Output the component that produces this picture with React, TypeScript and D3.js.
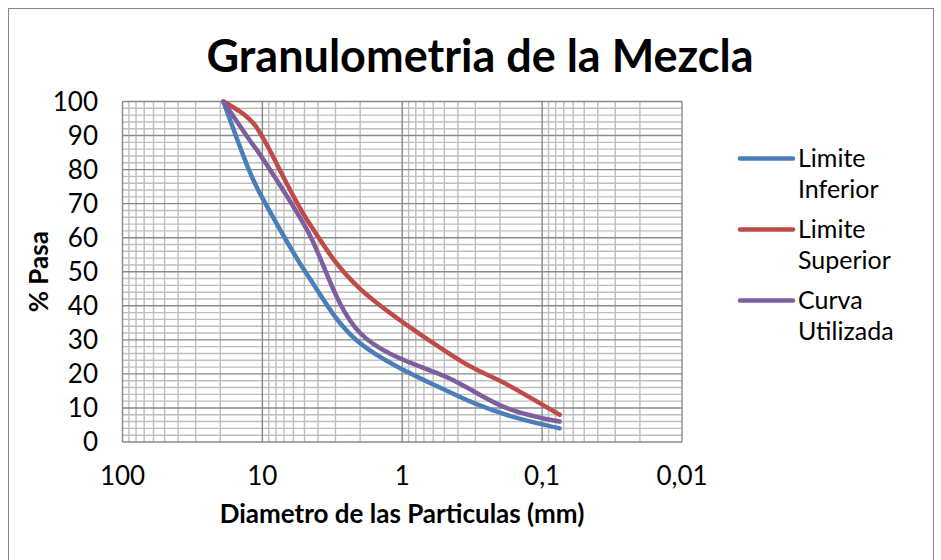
import React from "react";
import * as d3 from "d3";

const sieves = [19, 12.5, 9.5, 4.75, 2.0, 0.425, 0.18, 0.075];
const limiteInferior = [100, 80, 70, 49, 29, 14, 8, 4];
const limiteSuperior = [100, 95, 88, 65, 45, 25, 17, 8];
const curvaUtilizada = [100, 89, 82, 62, 32, 18, 10, 6];

const seriesNames = [["Limite", "Inferior"], ["Limite", "Superior"], ["Curva", "Utilizada"]];
const seriesColors = ["#4A7EBB", "#BE4B48", "#7D5FA0"];
const xTicks = [100, 10, 1, 0.1, 0.01];
const xTickLabels = ["100", "10", "1", "0,1", "0,01"];
const yTicks = [0, 10, 20, 30, 40, 50, 60, 70, 80, 90, 100];

const W = 941;
const H = 560;
const font = "Lato, 'Open Sans', sans-serif";

export default function App() {
  const x = d3.scaleLog().domain([100, 0.01]).range([122.5, 682]);
  const y = d3.scaleLinear().domain([0, 100]).range([442, 101.5]);

  const minorX: number[] = [];
  for (const dec of [10, 1, 0.1, 0.01]) {
    for (let k = 2; k <= 9; k++) minorX.push(dec * k);
  }
  const minorY: number[] = [];
  for (let v = 0; v <= 100; v += 2) if (v % 10 !== 0) minorY.push(v);

  const line = d3
    .line<[number, number]>()
    .x((d) => x(d[0]))
    .y((d) => y(d[1]))
    .curve(d3.curveCardinal.tension(0));

  const allSeries = [limiteInferior, limiteSuperior, curvaUtilizada];
  const [x0, x1] = x.range();
  const [y0, y1] = y.range();

  const legendY = [158.5, 229.5, 300.5];

  return (
    <svg
      width={W}
      height={H}
      style={{ position: "absolute", left: 0, top: 0, background: "#fff" }}
    >
      <rect x={8.5} y={8.5} width={925} height={600} fill="#fff" stroke="#868686" strokeWidth={1} />
      <text x={480} y={72} textAnchor="middle" fontFamily={font} fontWeight="bold" fontSize={45} fill="#000">
        Granulometria de la Mezcla
      </text>

      {minorY.map((v) => (
        <line key={"my" + v} x1={x0} x2={x1} y1={y(v)} y2={y(v)} stroke="#BFBFBF" strokeWidth={1.4} />
      ))}
      {minorX.map((v) => (
        <line key={"mx" + v} x1={x(v)} x2={x(v)} y1={y1} y2={y0} stroke="#BFBFBF" strokeWidth={1.4} />
      ))}
      {yTicks.map((v) => (
        <line key={"My" + v} x1={x0} x2={x1} y1={y(v)} y2={y(v)} stroke="#898989" strokeWidth={1.4} />
      ))}
      {xTicks.map((v) => (
        <line key={"Mx" + v} x1={x(v)} x2={x(v)} y1={y1} y2={y0} stroke="#898989" strokeWidth={1.4} />
      ))}

      {yTicks.map((v) => (
        <text key={"yl" + v} x={98} y={y(v) + 9} textAnchor="end" fontFamily={font} fontSize={26} fill="#000">
          {v}
        </text>
      ))}
      {xTicks.map((v, i) => (
        <text key={"xl" + v} x={x(v)} y={485} textAnchor="middle" fontFamily={font} fontSize={26} fill="#000">
          {xTickLabels[i]}
        </text>
      ))}

      <text x={402} y={523} textAnchor="middle" fontFamily={font} fontWeight="bold" fontSize={26} fill="#000">
        Diametro de las Particulas (mm)
      </text>
      <text
        transform={`translate(48,${(y0 + y1) / 2}) rotate(-90)`}
        textAnchor="middle"
        fontFamily={font}
        fontWeight="bold"
        fontSize={26}
        fill="#000"
      >
        %  Pasa
      </text>

      {allSeries.map((vals, i) => (
        <path
          key={"s" + i}
          d={line(sieves.map((s, j) => [s, vals[j]] as [number, number])) || ""}
          fill="none"
          stroke={seriesColors[i]}
          strokeWidth={4.5}
          strokeLinecap="round"
          strokeLinejoin="round"
        />
      ))}

      {seriesNames.map((nm, i) => (
        <g key={"lg" + i}>
          <line x1={740} x2={793} y1={legendY[i]} y2={legendY[i]} stroke={seriesColors[i]} strokeWidth={4.5} strokeLinecap="round" />
          <text x={798} y={legendY[i] + 8} fontFamily={font} fontSize={25} fill="#000">
            {nm[0]}
          </text>
          <text x={798} y={legendY[i] + 39} fontFamily={font} fontSize={25} fill="#000">
            {nm[1]}
          </text>
        </g>
      ))}
    </svg>
  );
}
